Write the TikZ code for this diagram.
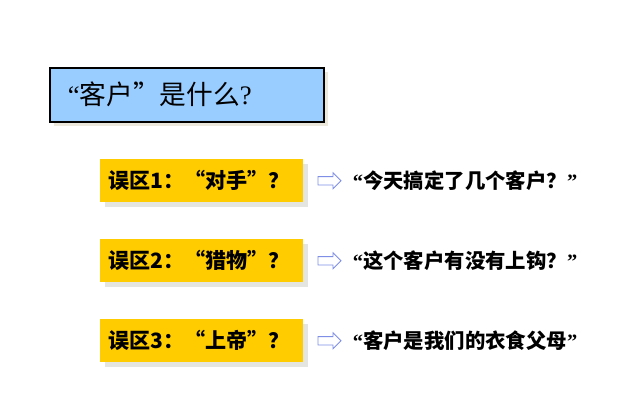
\documentclass[tikz,border=0pt]{standalone}
\usepackage{fontspec}
\newfontfamily\cjk{Noto Sans CJK SC}
\newfontfamily\qfont{Liberation Serif}
\usetikzlibrary{positioning, shapes.arrows}
\definecolor{titleBlue}{HTML}{99CCFF}
\definecolor{mythYellow}{HTML}{FFCC00}
\definecolor{shadeGray}{HTML}{E4E4E0}
\definecolor{shadeBeige}{HTML}{ECE8DC}
\definecolor{hintBlue}{HTML}{7F8FE6}
\newcommand{\oq}{{\qfont “}}
\newcommand{\cq}{{\qfont ”}}

\begin{document}
\begin{tikzpicture}[
  font=\cjk,
  titlebox/.style={rectangle, fill=titleBlue, draw=black, line width=1.1pt, anchor=north west,
                   minimum width=6.85cm, minimum height=1.35cm, inner xsep=0.45cm, align=left,
                   text width=5.95cm, font=\cjk\fontsize{19}{21}\selectfont},
  myth/.style={rectangle, fill=mythYellow, anchor=north west, minimum width=5.075cm,
               minimum height=1.075cm, inner xsep=0.2cm, text width=4.675cm, align=left,
               font=\cjk\bfseries\fontsize{15}{17}\selectfont},
  shade/.style={fill=#1, draw=none},
  hint/.style={single arrow, draw=hintBlue, fill=white, line width=0.6pt, inner sep=0.094cm,
               single arrow head extend=0.094cm, minimum height=0.575cm},
  quote/.style={anchor=west, font=\cjk\bfseries\fontsize{14.5}{16}\selectfont},
]
\useasboundingbox (0,0) rectangle (16,10);

% ===== Title ================================================================
\fill[shade=shadeBeige] (1.35,8.2) rectangle (8.2,6.85);
\node[titlebox] (title) at (1.225,8.325) {\oq 客户”是什么{\qfont ?}};

% ===== myth boxes ===========================================================
\fill[shade=shadeGray] (2.625,5.9) rectangle (7.7,4.825);
\node[myth] (myth1) at (2.5,6.025) {误区1：“对手”？};
\fill[shade=shadeGray] (2.625,3.9) rectangle (7.7,2.825);
\node[myth] (myth2) at (2.5,4.025) {误区2：“猎物”？};
\fill[shade=shadeGray] (2.625,1.9) rectangle (7.7,0.825);
\node[myth] (myth3) at (2.5,2.025) {误区3：“上帝”？};

% ===== hollow arrows + sayings ==============================================
\node[hint, right=0.35cm of myth1.east] (hint1) {};
\node[quote] (say1) at (8.7,5.475) {\oq 今天搞定了几个客户？\cq};
\node[hint, right=0.35cm of myth2.east] (hint2) {};
\node[quote] (say2) at (8.7,3.475) {\oq 这个客户有没有上钩？\cq};
\node[hint, right=0.35cm of myth3.east] (hint3) {};
\node[quote] (say3) at (8.7,1.475) {\oq 客户是我们的衣食父母\cq};

\end{tikzpicture}
\end{document}
